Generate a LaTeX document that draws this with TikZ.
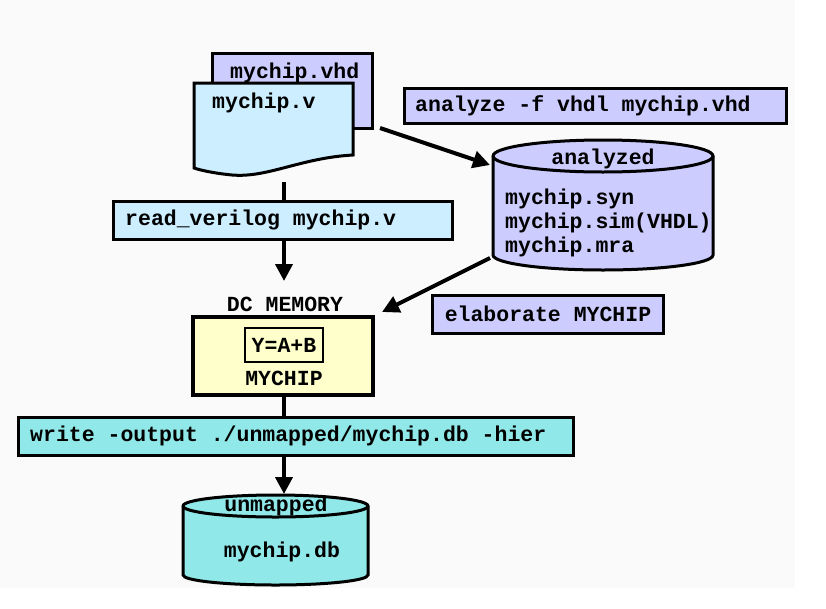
\documentclass[tikz,border=0pt]{standalone}
\usepackage{fontspec}
\newfontfamily\cour{Liberation Mono}
\usetikzlibrary{arrows.meta}
\definecolor{lav}{RGB}{204,204,255}
\definecolor{lblue}{RGB}{204,238,255}
\definecolor{lyel}{RGB}{255,255,204}
\definecolor{cyn}{RGB}{144,232,232}
\definecolor{bgc}{RGB}{250,250,250}
\begin{document}
\begin{tikzpicture}[x=1pt,y=-1pt,
  every node/.style={font=\cour\bfseries\fontsize{21.5}{24}\selectfont, inner sep=0pt},
  box/.style={draw=black, line width=3pt, inner sep=0pt},
  shp/.style={draw=black, line width=3pt},
  conn/.style={line width=4pt},
  arr/.style={line width=4pt, -{Triangle[length=17pt,width=17pt]}}]
\useasboundingbox (0,0) rectangle (826,608);
\fill[bgc] (0,0) rectangle (795,588);
% source files
\draw[shp, fill=lav] (212,53) rectangle (372,128);
\node[anchor=west] (vhd) at (230,73) {mychip.vhd};
\draw[shp, fill=lblue] (194,83) -- (353,83) -- (353,155)
  .. controls (300,158) and (268,178) .. (232,175)
  .. controls (212,173) and (200,170) .. (194,168) -- cycle;
\node[anchor=west] (vfile) at (212,103) {mychip.v};
\coordinate (docbot) at (284,182);
\coordinate (docright) at (380,128);
% analyze command
\node[box, fill=lav, minimum width=382pt, minimum height=35pt] (analyze) at (595,105.5) {};
\node[anchor=west] (analyzetxt) at (415,106) {analyze -f vhdl mychip.vhd};
% analyzed cylinder
\draw[shp, fill=lav] (493,156) -- (493,255) arc (180:0:110 and 15) -- (713,156) arc (0:-180:110 and 16) -- cycle;
\draw[shp] (493,156) arc (180:0:110 and 16);
\node (analyzed) at (603,159) {analyzed};
\node[anchor=west] (syn) at (505,199) {mychip.syn};
\node[anchor=west] (sim) at (505,223) {mychip.sim(VHDL)};
\node[anchor=west] (mra) at (505,247) {mychip.mra};
\coordinate (cylAin) at (490,165);
\coordinate (cylAout) at (490,258);
% read_verilog
\node[box, fill=lblue, minimum width=339pt, minimum height=38pt] (rv) at (282.5,220) {};
\node[anchor=west] (rvtxt) at (125,220) {read\_verilog mychip.v};
% DC memory
\node (dcmem) at (285,304) {DC MEMORY};
\node[box, fill=lyel, line width=3.5pt, minimum width=180pt, minimum height=78pt] (mem) at (283,356) {};
\node[box, line width=2.5pt, minimum width=78pt, minimum height=34pt] (eq) at (284,345) {Y=A+B};
\node (mychip) at (284,378) {MYCHIP};
\coordinate (memin) at (382,312);
% elaborate
\node[box, fill=lav, minimum width=231pt, minimum height=38pt] (elab) at (548,314) {elaborate MYCHIP};
% write
\node[box, fill=cyn, minimum width=555pt, minimum height=38pt] (wr) at (295.5,436) {};
\node[anchor=west] (wrtxt) at (30,436) {write -output ./unmapped/mychip.db -hier};
% unmapped cylinder
\draw[shp, fill=cyn] (183,506) -- (183,575) arc (180:0:92.5 and 10) -- (368,506) arc (0:-180:92.5 and 11) -- cycle;
\draw[shp] (183,506) arc (180:0:92.5 and 11);
\node (unm) at (276,506) {unmapped};
\node (db) at (282,552) {mychip.db};
\coordinate (cylBin) at (284,494);
% connectors
\draw[conn] (docbot) -- (rv.north -| docbot);
\draw[arr] (rv.south -| docbot) -- (docbot |- 0,281);
\draw[conn] (mem.south -| docbot) -- (wr.north -| docbot);
\draw[arr] (wr.south -| docbot) -- (cylBin);
\draw[arr] (docright) -- (cylAin);
\draw[arr] (cylAout) -- (memin);
\end{tikzpicture}
\end{document}
